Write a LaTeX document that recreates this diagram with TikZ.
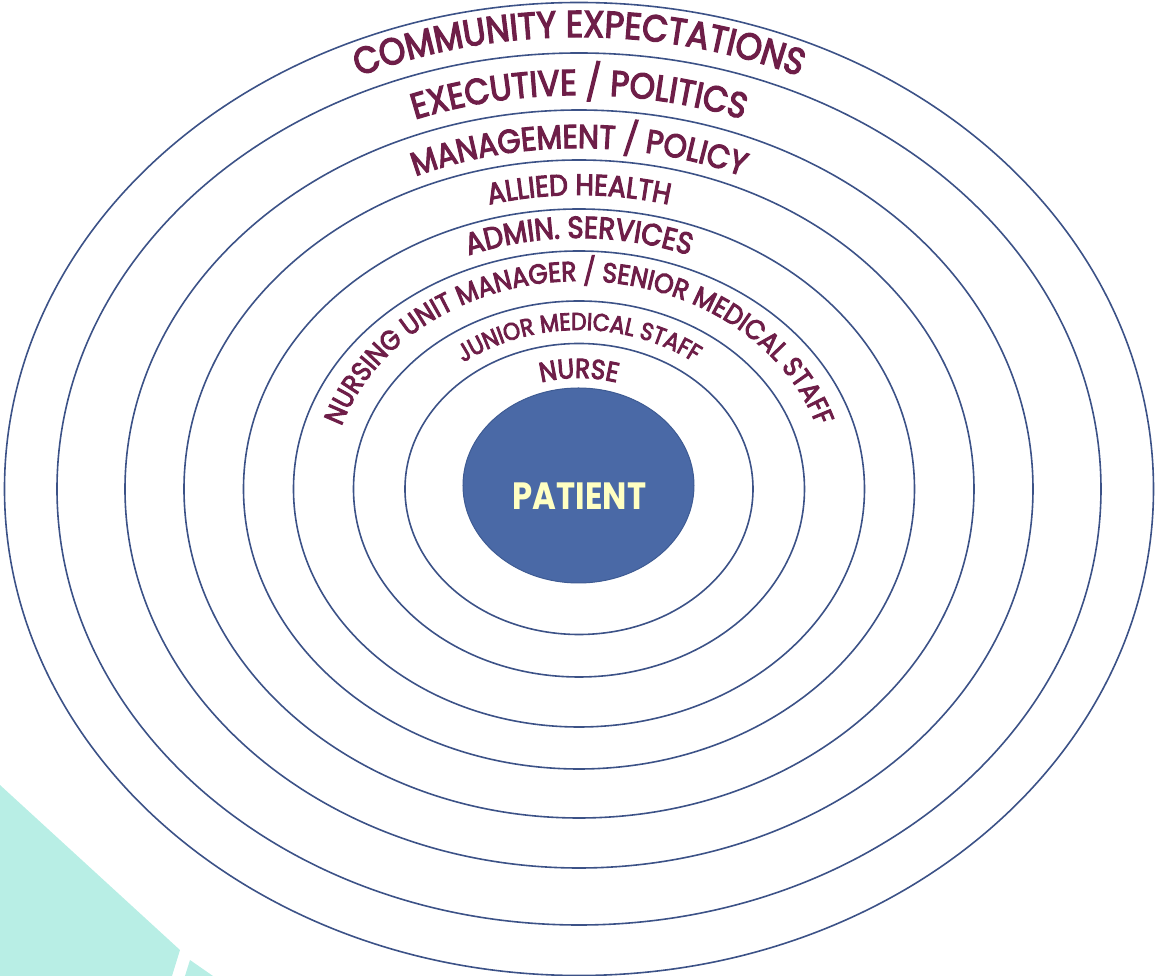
\documentclass[tikz,border=0pt]{standalone}
\usepackage{fontspec}
\newfontfamily\lblfont{Poppins}[FakeStretch=0.9,FakeBold=3.4]
\newfontfamily\patfont{Poppins}[FakeStretch=0.85]
\usetikzlibrary{decorations.text,shapes.geometric}
\definecolor{ringcol}{HTML}{3C5287}
\definecolor{lblcol}{HTML}{6E1E48}
\definecolor{patcol}{HTML}{4A69A6}
\definecolor{patedge}{HTML}{3E5B93}
\definecolor{pattext}{HTML}{FFFFC2}
\definecolor{tealcol}{HTML}{B8EEE5}
\newcommand\ringlabel[4]{%
  \path[decorate,decoration={text along path,text align=center,text color=lblcol,
    text={|\lblfont\fontsize{#3}{#3}\selectfont|#4}}]
    (-#1,0) arc[start angle=180,end angle=0,x radius=#1,y radius=#2];}
\begin{document}
\begin{tikzpicture}[x=1pt,y=1pt,
  ringline/.style={draw=ringcol,line width=1.6pt},
  patientnode/.style={ellipse,fill=patcol,draw=patedge,line width=1pt,inner sep=0pt,
    minimum width=231pt,minimum height=195pt}]
\useasboundingbox (-579,-487) rectangle (578,489);
% teal corner shapes
\fill[tealcol] (-579,-296) -- (-399,-461) -- (-407,-487) -- (-579,-487) -- cycle;
\fill[tealcol] (-394,-487) -- (-389,-471) -- (-366,-487) -- cycle;
% rings
\foreach \rx/\ry in {174/145.5,225.5/188,285.5/238,335.5/280,395/329,454/379,522/436,574.5/486.5}
  \draw[ringline] (0,0) ellipse[x radius=\rx,y radius=\ry];
% patient
\node (patient) [patientnode] at (-0.5,3.5) {};
\node (ptext) [anchor=base,text=pattext,font=\patfont\bfseries\fontsize{38}{38}\selectfont,inner sep=0pt] at (0.5,-21) {PATIENT};
% labels
\ringlabel{538.6}{452}{37.4}{COMMUNITY EXPECTATIONS}
\ringlabel{471.9}{394}{36}{EXECUTIVE / POLITICS}
\ringlabel{409.2}{341}{33}{MANAGEMENT / POLICY}
\ringlabel{352.5}{294}{29.5}{ALLIED HEALTH}
\ringlabel{301}{251}{30.5}{ADMIN. SERVICES}
\ringlabel{249}{208}{27.6}{NURSING UNIT MANAGER / SENIOR MEDICAL STAFF}
\ringlabel{190.4}{159}{24.4}{JUNIOR MEDICAL STAFF}
\ringlabel{132.7}{111}{27.5}{NURSE}
\end{tikzpicture}
\end{document}
